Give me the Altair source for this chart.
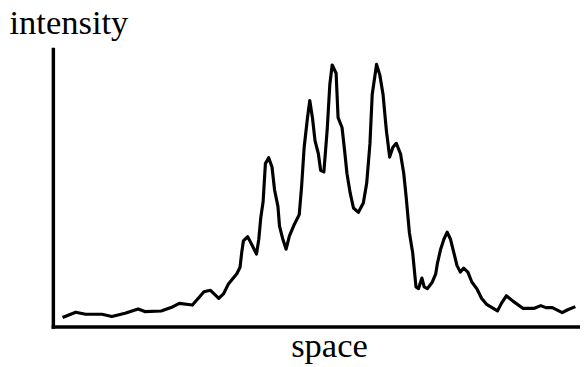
import altair as alt
import pandas as pd

space = [
    9.8, 23.2, 33.2, 49.8, 59.8, 73.2,
    86.5, 93.2, 109.8, 119.8, 128.2, 141.5,
    153.2, 159.8, 168.2, 173.2, 178.2, 186.5,
    189.8, 191.5, 193.2, 197.5, 201.5, 206.5,
    208.8, 210.8, 213.2, 215.5, 218.8, 222.2,
    224.8, 228.2, 229.8, 233.2, 236.5, 239.8,
    244.8, 249.8, 252.2, 254.8, 258.2, 260.5,
    263.2, 265.8, 269.2, 271.5, 274.8, 276.5,
    278.2, 280.8, 283.2, 287.2, 289.2, 293.2,
    295.8, 298.2, 301.5, 304.8, 309.8, 314.8,
    318.2, 321.5, 323.8, 328.2, 331.5, 334.8,
    338.2, 341.5, 344.8, 348.2, 352.5, 355.8,
    358.2, 361.5, 364.8, 368.2, 370.8, 374.2,
    376.5, 379.8, 384.8, 388.2, 389.8, 393.2,
    396.5, 399.8, 403.2, 406.5, 409.8, 413.2,
    416.5, 420.8, 424.8, 429.8, 434.8, 439.8,
    450.8, 454.8, 459.8, 466.5, 476.5, 488.2,
    494.8, 499.8, 506.5, 516.5, 521.5, 529.8,
]

intensity = [
    9.2, 14.5, 12.5, 12.5, 10.2, 13.5,
    17.8, 15.2, 15.8, 19.2, 23.5, 21.8,
    35.2, 36.8, 28.5, 33.5, 43.5, 53.5,
    60.2, 75.2, 86.8, 91.2, 83.5, 73.5,
    88.5, 110.2, 126.8, 165.2, 171.2, 161.8,
    138.5, 121.8, 101.8, 88.5, 78.5, 91.8,
    103.5, 113.5, 141.8, 181.8, 211.8, 229.2,
    211.8, 188.5, 175.2, 158.5, 156.8, 178.5,
    200.2, 245.2, 265.2, 256.8, 211.8, 201.8,
    178.5, 155.2, 135.2, 120.2, 115.8, 125.2,
    145.2, 185.2, 235.2, 265.8, 255.2, 235.2,
    198.5, 171.8, 181.8, 185.8, 175.2, 155.2,
    131.8, 95.2, 75.2, 40.2, 38.5, 49.2,
    40.2, 38.5, 45.2, 53.5, 63.5, 78.5,
    88.5, 95.8, 88.5, 75.2, 61.8, 55.2,
    59.2, 55.2, 45.2, 38.5, 28.5, 22.5,
    15.8, 23.5, 31.2, 25.8, 18.5, 18.5,
    21.2, 19.2, 19.2, 14.2, 16.8, 20.2,
]

x_domain = [0, 534.5]
y_domain = [0, 281.5]

df = pd.DataFrame({"space": space, "intensity": intensity})

FONT = "Liberation Serif"

chart = alt.Chart(df).mark_line(
    color="black", strokeWidth=3.2, strokeJoin="round", clip=True
).encode(
    x=alt.X("space:Q", scale=alt.Scale(domain=x_domain, nice=False, zero=False),
            axis=alt.Axis(title="space", labels=False, ticks=False, grid=False,
                          domainColor="black", domainWidth=3.5, domainCap="square",
                          titleFont=FONT, titleFontSize=35, titleFontWeight="normal",
                          titleColor="black", titleX=280, titleY=30,
                          titleAlign="center", titleBaseline="alphabetic")),
    y=alt.Y("intensity:Q", scale=alt.Scale(domain=y_domain, nice=False),
            axis=alt.Axis(title="intensity", labels=False, ticks=False, grid=False,
                          domainColor="black", domainWidth=3.5, domainCap="square",
                          titleFont=FONT, titleFontSize=35, titleFontWeight="normal",
                          titleColor="black", titleAngle=0, titleX=-44.5, titleY=-15.3,
                          titleAlign="left", titleBaseline="alphabetic")),
).properties(
    width=534.5,
    height=281.5,
    autosize=alt.AutoSizeParams(type="none"),
    padding={"left": 45.5, "top": 39, "right": 0, "bottom": 37.5},
).configure(background="white").configure_view(stroke=None)

chart.save("out.html", embed_options={"renderer": "svg", "actions": False})
